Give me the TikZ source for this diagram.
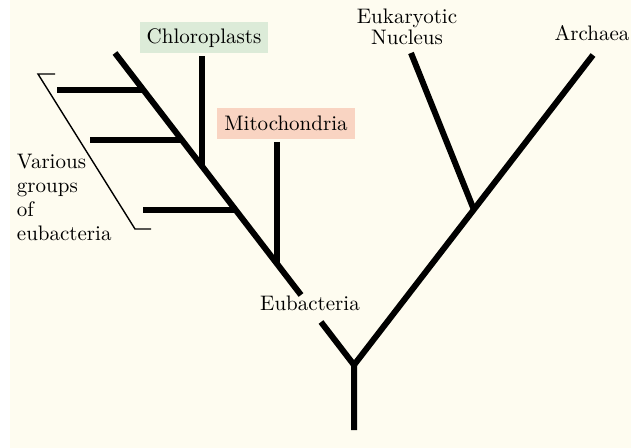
\documentclass[tikz,border=0pt]{standalone}
\usepackage{tikz}
\definecolor{cream}{HTML}{FEFCF0}
\definecolor{chlgreen}{HTML}{DCEBD8}
\definecolor{mitored}{HTML}{F9D4C2}

\begin{document}
\begin{tikzpicture}[x=0.5pt,y=-0.5pt,line width=3pt,
    lab/.style={font=\fontsize{10.5}{12}\selectfont, inner sep=0pt},
    tag/.style={lab, inner xsep=3.5pt, minimum height=15.5pt}]
        \useasboundingbox (0,0) rectangle (631,448);
        \fill[cream] (10,0) rectangle (631,448);
        % points of the tree
        \coordinate (root) at (354,430);
        \coordinate (fork) at (354,365);
        \coordinate (eubtop) at (115,53);
        \coordinate (g1) at (143.3,90);
        \coordinate (g2) at (181.6,140);
        \coordinate (chljoin) at (202,166);
        \coordinate (g3) at (235.3,210);
        \coordinate (mitojoin) at (277,264);
        \coordinate (gapup) at (301,295);
        \coordinate (gapdown) at (321,322);
        \coordinate (g1end) at (57,90);
        \coordinate (g2end) at (90,140);
        \coordinate (g3end) at (143,210);
        \coordinate (arctop) at (593,55);
        \coordinate (nucjoin) at (474,210);
        \coordinate (nuctop) at (411,53);
        % labels
        \node[tag, fill=chlgreen] (chl) at (204,38) {Chloroplasts};
        \node[tag, fill=mitored] (mito) at (286,123.5) {Mitochondria};
        \node[lab, align=center, font=\fontsize{10.5}{10.5}\selectfont] (nuc) at (407,27) {Eukaryotic\\Nucleus};
        \node[lab] (arc) at (592,33) {Archaea};
        \node[lab] (eub) at (310,303) {Eubacteria};
        \node[lab, align=left, anchor=west] (various) at (14,197) {Various\\groups\\of\\eubacteria};
        % branches
        \draw (root)--(fork)--(gapdown);
        \draw (gapup)--(eubtop);
        \draw (fork)--(arctop);
        \draw (nucjoin)--(nuctop);
        \draw (chl.south -| chljoin)--(chljoin);
        \draw (mito.south -| mitojoin)--(mitojoin);
        \draw (g1)--(g1end);
        \draw (g2)--(g2end);
        \draw (g3)--(g3end);
        % bracket
        \draw[line width=0.7pt] (55,74)--(38,74)--(135,229)--(151,229);
    \end{tikzpicture}
\end{document}
